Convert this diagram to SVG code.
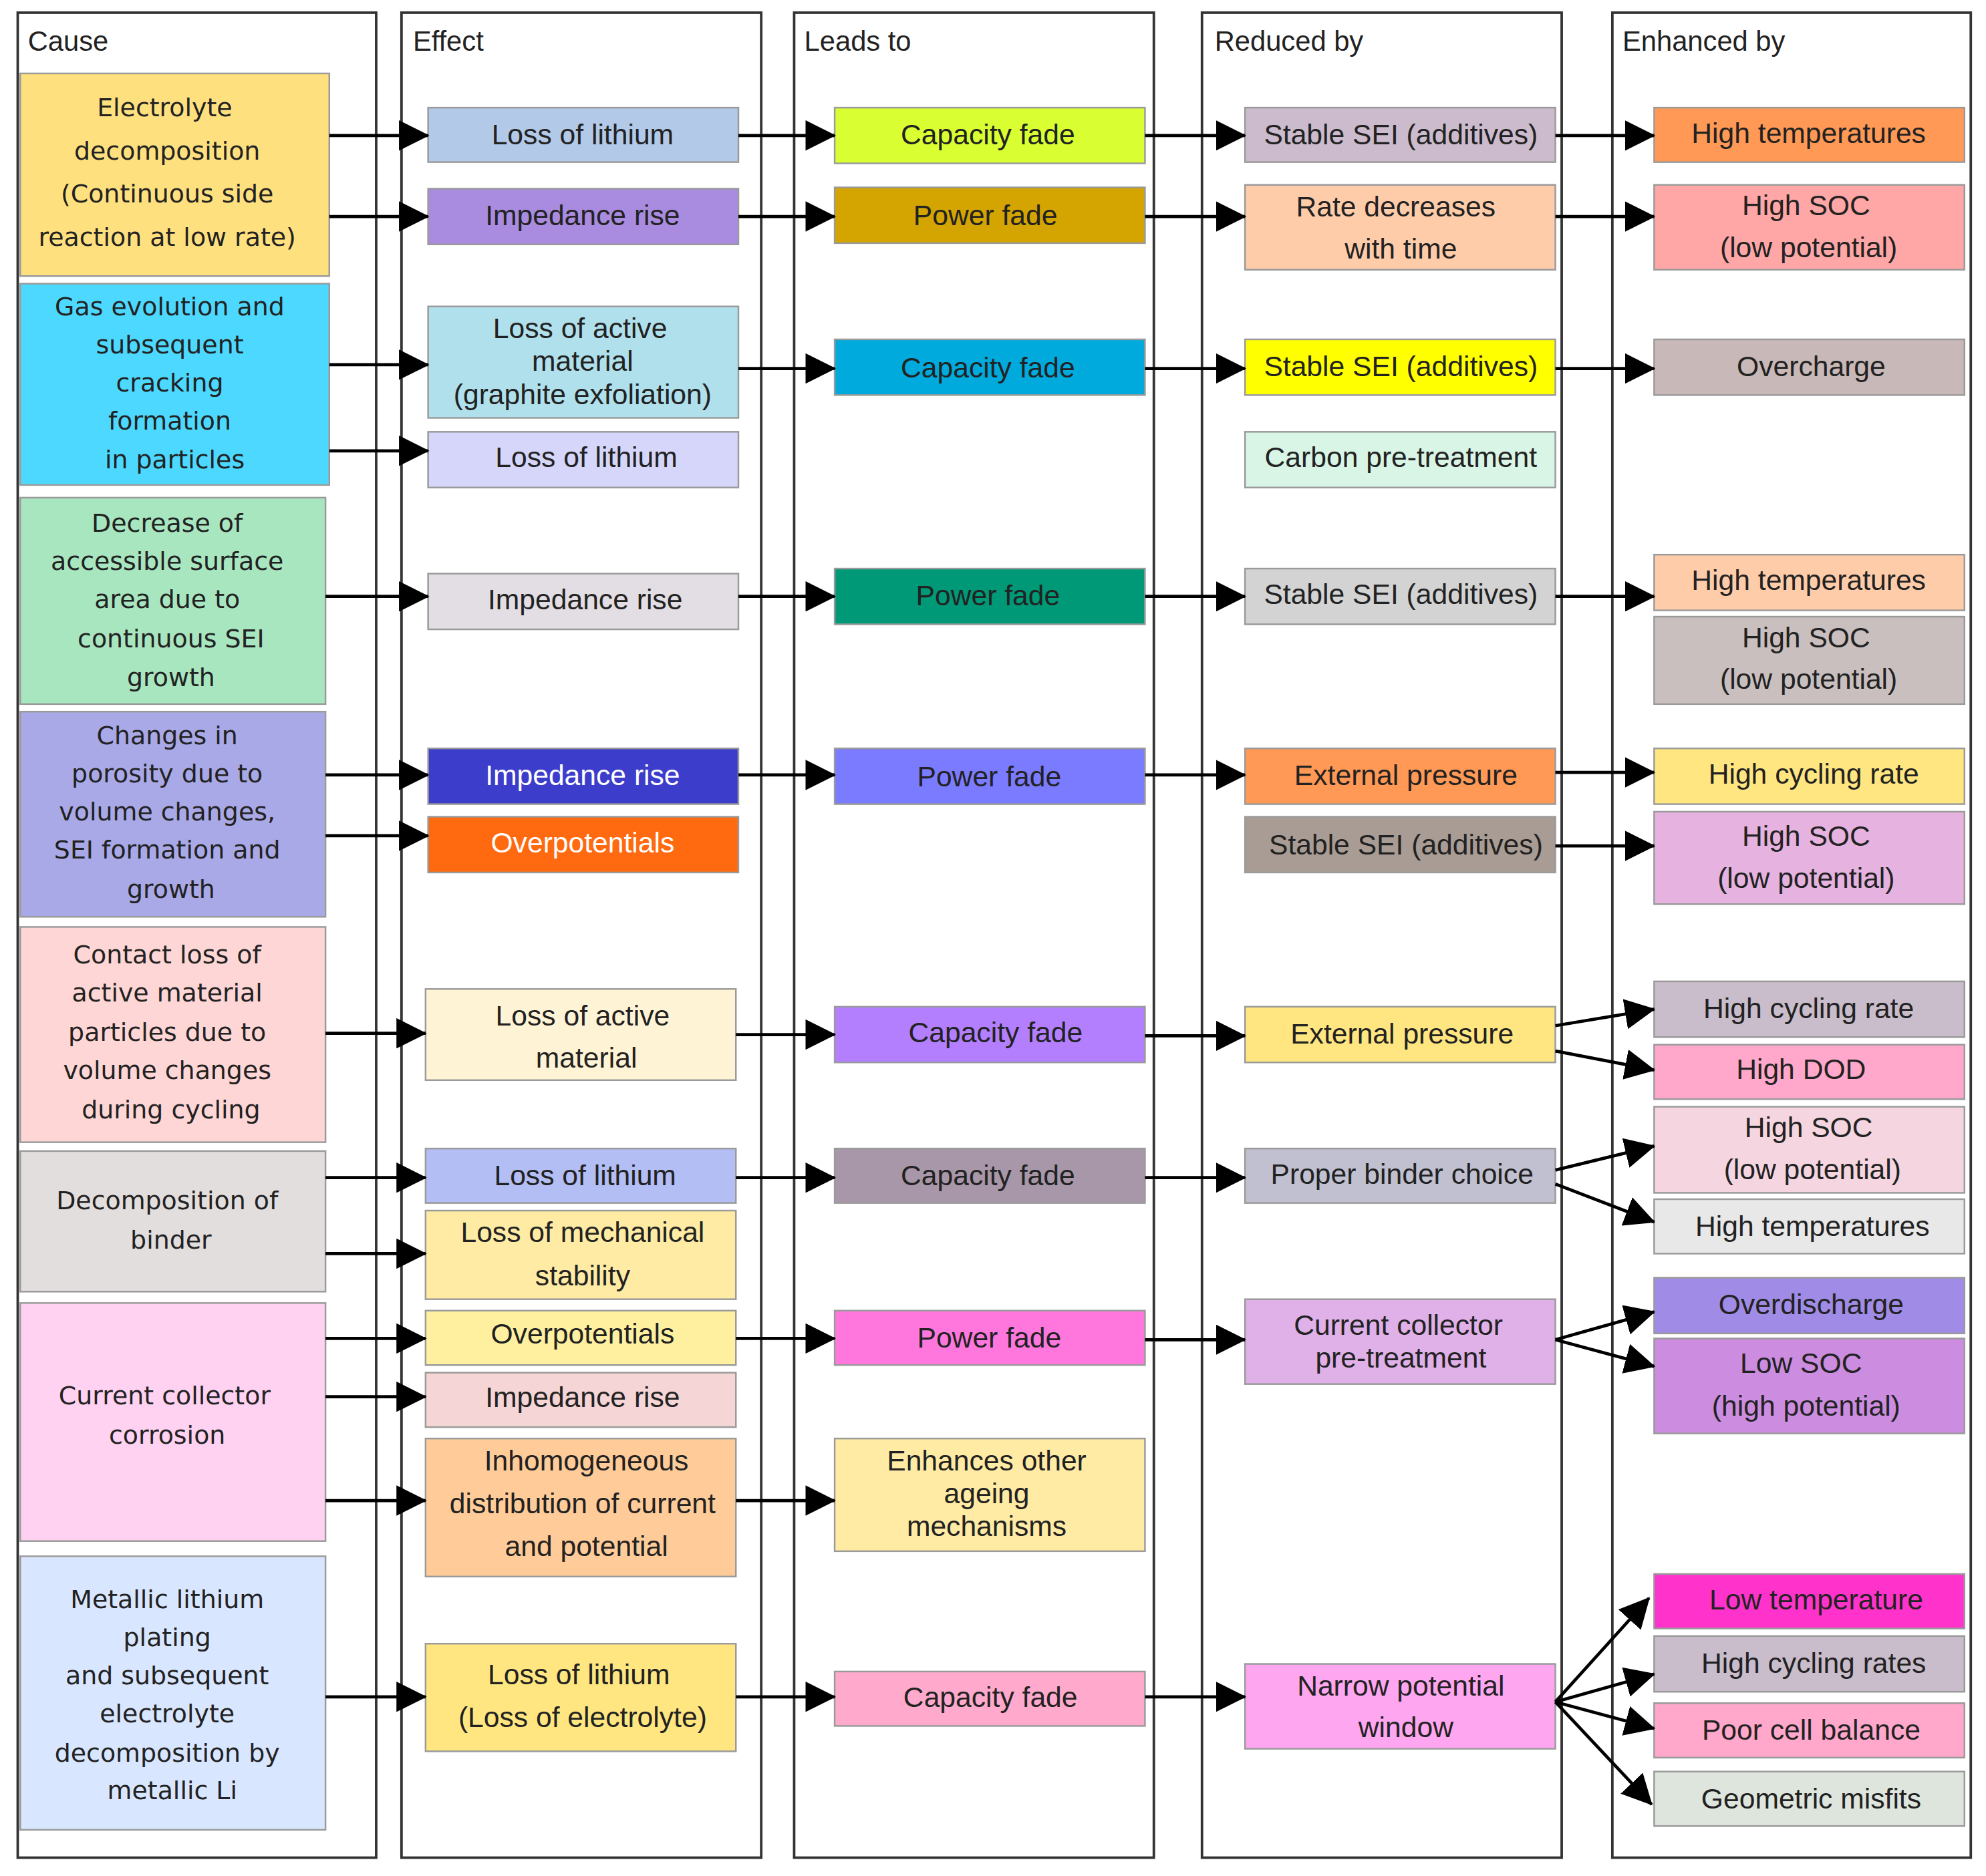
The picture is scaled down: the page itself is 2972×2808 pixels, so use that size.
<svg xmlns="http://www.w3.org/2000/svg" width="2972" height="2808" viewBox="0 0 2972 2808">
<style>
.col{fill:#fff;stroke:#333;stroke-width:2}
.b{stroke:#9a9a9a;stroke-width:1.3}
.h{font-family:"Liberation Sans",Arial,sans-serif;font-size:22px;fill:#222}
.c{font-family:"DejaVu Sans",Verdana,sans-serif;font-size:20px;fill:#222;text-anchor:middle}
.t{font-family:"Liberation Sans",Arial,sans-serif;font-size:22.5px;fill:#222;text-anchor:middle}
.w{fill:#fff}
.cn path{stroke:#000;stroke-width:2.5;fill:none;marker-end:url(#a)}
</style>
<defs><marker id="a" markerUnits="userSpaceOnUse" markerWidth="24" markerHeight="24" refX="23" refY="12" orient="auto"><path d="M0,0 L24,12 L0,24 z" fill="#000"/></marker></defs>
<rect width="2972" height="2808" fill="#fff"/>
<g transform="scale(1.8954)">
<g id="columns">
<rect class="col" x="14" y="10" width="283" height="1457"/><text class="h" x="22" y="40">Cause</text>
<rect class="col" x="317" y="10" width="284" height="1457"/><text class="h" x="326" y="40">Effect</text>
<rect class="col" x="627" y="10" width="284" height="1457"/><text class="h" x="635" y="40">Leads to</text>
<rect class="col" x="949" y="10" width="284" height="1457"/><text class="h" x="959" y="40">Reduced by</text>
<rect class="col" x="1273" y="10" width="283" height="1457"/><text class="h" x="1281" y="40">Enhanced by</text>
</g>
<g id="cause1"><rect class="b" x="16" y="58" width="244" height="160" fill="#FFE07F"/><text class="c" x="134"><tspan x="130" y="92">Electrolyte</tspan><tspan x="132" y="126">decomposition</tspan><tspan x="132" y="160">(Continuous side</tspan><tspan x="132" y="194">reaction at low rate)</tspan></text></g>
<g id="cause2"><rect class="b" x="16" y="224" width="244" height="159" fill="#4DD9FF"/><text class="c"><tspan x="134" y="249">Gas evolution and</tspan><tspan x="134" y="279">subsequent</tspan><tspan x="134" y="309">cracking</tspan><tspan x="134" y="339">formation</tspan><tspan x="138" y="370">in particles</tspan></text></g>
<g id="cause3"><rect class="b" x="16" y="393" width="241" height="163" fill="#A8E6C0"/><text class="c"><tspan x="132" y="420">Decrease of</tspan><tspan x="132" y="450">accessible surface</tspan><tspan x="132" y="480">area due to</tspan><tspan x="135" y="511">continuous SEI</tspan><tspan x="135" y="542">growth</tspan></text></g>
<g id="cause4"><rect class="b" x="16" y="562" width="241" height="162" fill="#A9A9E8"/><text class="c"><tspan x="132" y="588">Changes in</tspan><tspan x="132" y="618">porosity due to</tspan><tspan x="132" y="648">volume changes,</tspan><tspan x="132" y="678">SEI formation and</tspan><tspan x="135" y="709">growth</tspan></text></g>
<g id="cause5"><rect class="b" x="16" y="732" width="241" height="170" fill="#FFD6D6"/><text class="c"><tspan x="132" y="761">Contact loss of</tspan><tspan x="132" y="791">active material</tspan><tspan x="132" y="822">particles due to</tspan><tspan x="132" y="852">volume changes</tspan><tspan x="135" y="883">during cycling</tspan></text></g>
<g id="cause6"><rect class="b" x="16" y="909" width="241" height="111" fill="#E3DEDE"/><text class="c"><tspan x="132" y="955">Decomposition of</tspan><tspan x="135" y="986">binder</tspan></text></g>
<g id="cause7"><rect class="b" x="16" y="1029" width="241" height="188" fill="#FFD2F2"/><text class="c"><tspan x="130" y="1109">Current collector</tspan><tspan x="132" y="1140">corrosion</tspan></text></g>
<g id="cause8"><rect class="b" x="16" y="1229" width="241" height="216" fill="#D9E6FF"/><text class="c"><tspan x="132" y="1270">Metallic lithium</tspan><tspan x="132" y="1300">plating</tspan><tspan x="132" y="1330">and subsequent</tspan><tspan x="132" y="1360">electrolyte</tspan><tspan x="132" y="1391">decomposition by</tspan><tspan x="136" y="1421">metallic Li</tspan></text></g>

<g id="e1"><rect class="b" x="338" y="85" width="245" height="43" fill="#B3C9E8"/><text class="t" x="460" y="114">Loss of lithium</text></g>
<g id="e2"><rect class="b" x="338" y="149" width="245" height="44" fill="#A98BE0"/><text class="t" x="460" y="178">Impedance rise</text></g>
<g id="e3"><rect class="b" x="338" y="242" width="245" height="88" fill="#B0E0EC"/><text class="t"><tspan x="458" y="267">Loss of active</tspan><tspan x="460" y="293">material</tspan><tspan x="460" y="319">(graphite exfoliation)</tspan></text></g>
<g id="e4"><rect class="b" x="338" y="341" width="245" height="44" fill="#D6D6FA"/><text class="t" x="463" y="369">Loss of lithium</text></g>
<g id="e5"><rect class="b" x="338" y="453" width="245" height="44" fill="#E3DEE3"/><text class="t" x="462" y="481">Impedance rise</text></g>
<g id="e6"><rect class="b" x="338" y="591" width="245" height="44" fill="#3D3DCC"/><text class="t w" x="460" y="620">Impedance rise</text></g>
<g id="e7"><rect class="b" x="338" y="645" width="245" height="44" fill="#FF6A10"/><text class="t w" x="460" y="673">Overpotentials</text></g>
<g id="e8"><rect class="b" x="336" y="781" width="245" height="72" fill="#FFF3D6"/><text class="t"><tspan x="460" y="810">Loss of active</tspan><tspan x="463" y="843">material</tspan></text></g>
<g id="e9"><rect class="b" x="336" y="907" width="245" height="43" fill="#B3BEF5"/><text class="t" x="462" y="936">Loss of lithium</text></g>
<g id="e10"><rect class="b" x="336" y="956" width="245" height="70" fill="#FFEBA3"/><text class="t"><tspan x="460" y="981">Loss of mechanical</tspan><tspan x="460" y="1015">stability</tspan></text></g>
<g id="e11"><rect class="b" x="336" y="1035" width="245" height="43" fill="#FFF0A0"/><text class="t" x="460" y="1061">Overpotentials</text></g>
<g id="e12"><rect class="b" x="336" y="1084" width="245" height="43" fill="#F5D5D5"/><text class="t" x="460" y="1111">Impedance rise</text></g>
<g id="e13"><rect class="b" x="336" y="1136" width="245" height="109" fill="#FFCC99"/><text class="t"><tspan x="463" y="1161">Inhomogeneous</tspan><tspan x="460" y="1195">distribution of current</tspan><tspan x="463" y="1229">and potential</tspan></text></g>
<g id="e14"><rect class="b" x="336" y="1298" width="245" height="85" fill="#FFE680"/><text class="t"><tspan x="457" y="1330">Loss of lithium</tspan><tspan x="460" y="1364">(Loss of electrolyte)</tspan></text></g>

<g id="l1"><rect class="b" x="659" y="85" width="245" height="44" fill="#D9FF33"/><text class="t" x="780" y="114">Capacity fade</text></g>
<g id="l2"><rect class="b" x="659" y="148" width="245" height="44" fill="#D4A500"/><text class="t" x="778" y="178">Power fade</text></g>
<g id="l3"><rect class="b" x="659" y="268" width="245" height="44" fill="#00AADD"/><text class="t" x="780" y="298">Capacity fade</text></g>
<g id="l4"><rect class="b" x="659" y="449" width="245" height="44" fill="#009977"/><text class="t" x="780" y="478">Power fade</text></g>
<g id="l5"><rect class="b" x="659" y="591" width="245" height="44" fill="#7B7BFF"/><text class="t" x="781" y="621">Power fade</text></g>
<g id="l6"><rect class="b" x="659" y="795" width="245" height="44" fill="#B37FFF"/><text class="t" x="786" y="823">Capacity fade</text></g>
<g id="l7"><rect class="b" x="659" y="907" width="245" height="43" fill="#A897A8"/><text class="t" x="780" y="936">Capacity fade</text></g>
<g id="l8"><rect class="b" x="659" y="1035" width="245" height="43" fill="#FF77DD"/><text class="t" x="781" y="1064">Power fade</text></g>
<g id="l9"><rect class="b" x="659" y="1136" width="245" height="89" fill="#FFEBA3"/><text class="t"><tspan x="779" y="1161">Enhances other</tspan><tspan x="779" y="1187">ageing</tspan><tspan x="779" y="1213">mechanisms</tspan></text></g>
<g id="l10"><rect class="b" x="659" y="1320" width="245" height="43" fill="#FFAACC"/><text class="t" x="782" y="1348">Capacity fade</text></g>

<g id="r1"><rect class="b" x="983" y="85" width="245" height="43" fill="#CCBBCC"/><text class="t" x="1106" y="114">Stable SEI (additives)</text></g>
<g id="r2"><rect class="b" x="983" y="146" width="245" height="67" fill="#FFCCAA"/><text class="t"><tspan x="1102" y="171">Rate decreases</tspan><tspan x="1106" y="204">with time</tspan></text></g>
<g id="r3"><rect class="b" x="983" y="268" width="245" height="44" fill="#FFFF00"/><text class="t" x="1106" y="297">Stable SEI (additives)</text></g>
<g id="r4"><rect class="b" x="983" y="341" width="245" height="44" fill="#D9F5E6"/><text class="t" x="1106" y="369">Carbon pre-treatment</text></g>
<g id="r5"><rect class="b" x="983" y="449" width="245" height="44" fill="#D3D3D3"/><text class="t" x="1106" y="477">Stable SEI (additives)</text></g>
<g id="r6"><rect class="b" x="983" y="591" width="245" height="44" fill="#FF9955"/><text class="t" x="1110" y="620">External pressure</text></g>
<g id="r7"><rect class="b" x="983" y="645" width="245" height="44" fill="#A89C94"/><text class="t" x="1110" y="675">Stable SEI (additives)</text></g>
<g id="r8"><rect class="b" x="983" y="795" width="245" height="44" fill="#FFE680"/><text class="t" x="1107" y="824">External pressure</text></g>
<g id="r9"><rect class="b" x="983" y="907" width="245" height="43" fill="#C0C0D0"/><text class="t" x="1107" y="935">Proper binder choice</text></g>
<g id="r10"><rect class="b" x="983" y="1026" width="245" height="67" fill="#E0B0E8"/><text class="t"><tspan x="1104" y="1054">Current collector</tspan><tspan x="1106" y="1080">pre-treatment</tspan></text></g>
<g id="r11"><rect class="b" x="983" y="1314" width="245" height="67" fill="#FFA6F0"/><text class="t"><tspan x="1106" y="1339">Narrow potential</tspan><tspan x="1110" y="1372">window</tspan></text></g>

<g id="n1"><rect class="b" x="1306" y="85" width="245" height="43" fill="#FF9955"/><text class="t" x="1428" y="113">High temperatures</text></g>
<g id="n2"><rect class="b" x="1306" y="146" width="245" height="67" fill="#FFA6A6"/><text class="t"><tspan x="1426" y="170">High SOC</tspan><tspan x="1428" y="203">(low potential)</tspan></text></g>
<g id="n3"><rect class="b" x="1306" y="268" width="245" height="44" fill="#C8B8B8"/><text class="t" x="1430" y="297">Overcharge</text></g>
<g id="n4"><rect class="b" x="1306" y="438" width="245" height="44" fill="#FFCCAA"/><text class="t" x="1428" y="466">High temperatures</text></g>
<g id="n5"><rect class="b" x="1306" y="487" width="245" height="69" fill="#C9BFBF"/><text class="t"><tspan x="1426" y="511">High SOC</tspan><tspan x="1428" y="544">(low potential)</tspan></text></g>
<g id="n6"><rect class="b" x="1306" y="591" width="245" height="44" fill="#FFE680"/><text class="t" x="1432" y="619">High cycling rate</text></g>
<g id="n7"><rect class="b" x="1306" y="641" width="245" height="73" fill="#E6B3E0"/><text class="t"><tspan x="1426" y="668">High SOC</tspan><tspan x="1426" y="701">(low potential)</tspan></text></g>
<g id="n8"><rect class="b" x="1306" y="775" width="245" height="44" fill="#C9BCCB"/><text class="t" x="1428" y="804">High cycling rate</text></g>
<g id="n9"><rect class="b" x="1306" y="825" width="245" height="43" fill="#FFA8CC"/><text class="t" x="1422" y="852">High DOD</text></g>
<g id="n10"><rect class="b" x="1306" y="874" width="245" height="68" fill="#F5D6E0"/><text class="t"><tspan x="1428" y="898">High SOC</tspan><tspan x="1431" y="931">(low potential)</tspan></text></g>
<g id="n11"><rect class="b" x="1306" y="947" width="245" height="43" fill="#E8E8E8"/><text class="t" x="1431" y="976">High temperatures</text></g>
<g id="n12"><rect class="b" x="1306" y="1009" width="245" height="44" fill="#A08CE6"/><text class="t" x="1430" y="1038">Overdischarge</text></g>
<g id="n13"><rect class="b" x="1306" y="1057" width="245" height="75" fill="#CC8CE0"/><text class="t"><tspan x="1422" y="1084">Low SOC</tspan><tspan x="1426" y="1118">(high potential)</tspan></text></g>
<g id="n14"><rect class="b" x="1306" y="1243" width="245" height="43" fill="#FF33CC"/><text class="t" x="1434" y="1271">Low temperature</text></g>
<g id="n15"><rect class="b" x="1306" y="1292" width="245" height="44" fill="#C9BCCB"/><text class="t" x="1432" y="1321">High cycling rates</text></g>
<g id="n16"><rect class="b" x="1306" y="1345" width="245" height="43" fill="#FFA8CC"/><text class="t" x="1430" y="1374">Poor cell balance</text></g>
<g id="n17"><rect class="b" x="1306" y="1399" width="245" height="43" fill="#DDE5DD"/><text class="t" x="1430" y="1428">Geometric misfits</text></g>

<g id="connectors" class="cn">
<path d="M260,107H338"/><path d="M260,171H338"/><path d="M260,288H338"/><path d="M260,356H338"/>
<path d="M257,471H338"/><path d="M257,612H338"/><path d="M257,660H338"/><path d="M257,816H336"/>
<path d="M257,930H336"/><path d="M257,990H336"/><path d="M257,1057H336"/><path d="M257,1103H336"/>
<path d="M257,1185H336"/><path d="M257,1340H336"/>
<path d="M583,107H659"/><path d="M583,171H659"/><path d="M583,291H659"/><path d="M583,471H659"/>
<path d="M583,612H659"/><path d="M581,817H659"/><path d="M581,930H659"/><path d="M581,1057H659"/>
<path d="M581,1185H659"/><path d="M581,1340H659"/>
<path d="M904,107H983"/><path d="M904,171H983"/><path d="M904,291H983"/><path d="M904,471H983"/>
<path d="M904,612H983"/><path d="M904,818H983"/><path d="M904,930H983"/><path d="M904,1058H983"/><path d="M904,1340H983"/>
<path d="M1228,107H1306"/><path d="M1228,171H1306"/><path d="M1228,291H1306"/><path d="M1228,471H1306"/>
<path d="M1228,610H1306"/><path d="M1228,668H1306"/>
<path d="M1228,810L1306,797"/><path d="M1228,830L1306,845"/>
<path d="M1228,924L1306,905"/><path d="M1228,935L1306,965"/>
<path d="M1228,1058L1306,1036"/><path d="M1228,1058L1306,1079"/>
<path d="M1228,1344L1302,1262"/><path d="M1228,1344L1306,1322"/><path d="M1228,1344L1306,1365"/><path d="M1228,1344L1304,1425"/>
</g>
</g>
</svg>
